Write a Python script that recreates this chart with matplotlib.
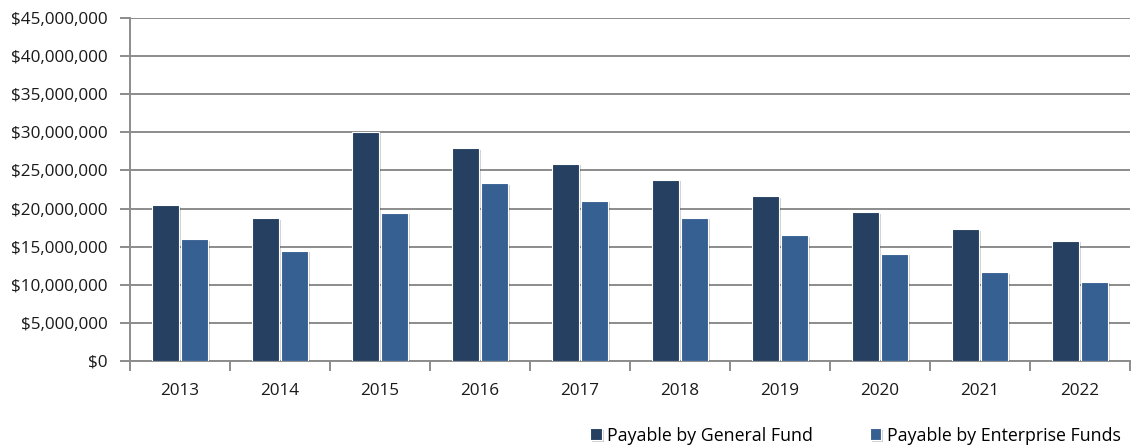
import numpy as np
import matplotlib
matplotlib.use('Agg')
import matplotlib.pyplot as plt
from matplotlib import patheffects
from matplotlib.ticker import FuncFormatter, MultipleLocator

plt.rcParams['font.family'] = ['Open Sans', 'DejaVu Sans']

# Данные
years = ['2013', '2014', '2015', '2016', '2017', '2018', '2019', '2020', '2021', '2022']
general_fund = [20.4, 18.7, 30.1, 27.9, 25.9, 23.8, 21.6, 19.5, 17.3, 15.8]
enterprise_funds = [15.95, 14.45, 19.4, 23.3, 21.0, 18.8, 16.5, 14.1, 11.65, 10.4]
general_fund = [v * 1e6 for v in general_fund]
enterprise_funds = [v * 1e6 for v in enterprise_funds]

GF_COLOR = '#254061'
EF_COLOR = '#366092'
GRID = '#8c8c8c'
FS = 12.3


def money(v, _):
    return '${:,.0f}'.format(v)


def main():
    fig = plt.figure(figsize=(11.32, 4.45), dpi=100)
    ax = fig.add_axes([0.1148, 0.1888, 0.8835, 0.7708])

    x = np.arange(len(years))
    w = 0.275
    shadow = [patheffects.SimplePatchShadow(offset=(1.5, -1.0), shadow_rgbFace='#000000', alpha=0.18),
              patheffects.Normal()]
    b1 = ax.bar(x - 0.145, general_fund, w, color=GF_COLOR, edgecolor='white', linewidth=0.8,
                label='Payable by General Fund', zorder=3)
    b2 = ax.bar(x + 0.145, enterprise_funds, w, color=EF_COLOR, edgecolor='white', linewidth=0.8,
                label='Payable by Enterprise Funds', zorder=3)
    for bar in list(b1) + list(b2):
        bar.set_path_effects(shadow)

    ax.set_xlim(-0.5, len(years) - 0.5)
    ax.set_ylim(0, 45e6)
    ax.yaxis.set_major_locator(MultipleLocator(5e6))
    ax.yaxis.set_major_formatter(FuncFormatter(money))
    ax.grid(axis='y', color=GRID, linewidth=1.4, zorder=0)
    ax.set_axisbelow(True)

    # подписи годов по центру, засечки между группами
    ax.set_xticks(x)
    ax.set_xticklabels(years)
    ax.set_xticks(np.arange(-0.5, len(years)), minor=True)
    ax.tick_params(axis='x', which='major', length=0, pad=16, labelsize=FS, colors='#1a1a1a')
    ax.tick_params(axis='x', which='minor', length=7, width=1.4, color=GRID)
    ax.tick_params(axis='y', length=7, width=1.4, color=GRID, pad=9, labelsize=FS, labelcolor='#1a1a1a')

    for s in ['top', 'right']:
        ax.spines[s].set_visible(False)
    for s in ['left', 'bottom']:
        ax.spines[s].set_color(GRID)
        ax.spines[s].set_linewidth(1.4)

    fig.legend(handles=[b1, b2], loc='lower right', bbox_to_anchor=(1.004, -0.035), ncol=2,
               frameon=False, fontsize=12.8, handlelength=0.65, handleheight=0.65,
               handletextpad=0.3, columnspacing=3.2)

    fig.savefig('out.png', dpi=100)


if __name__ == '__main__':
    main()
